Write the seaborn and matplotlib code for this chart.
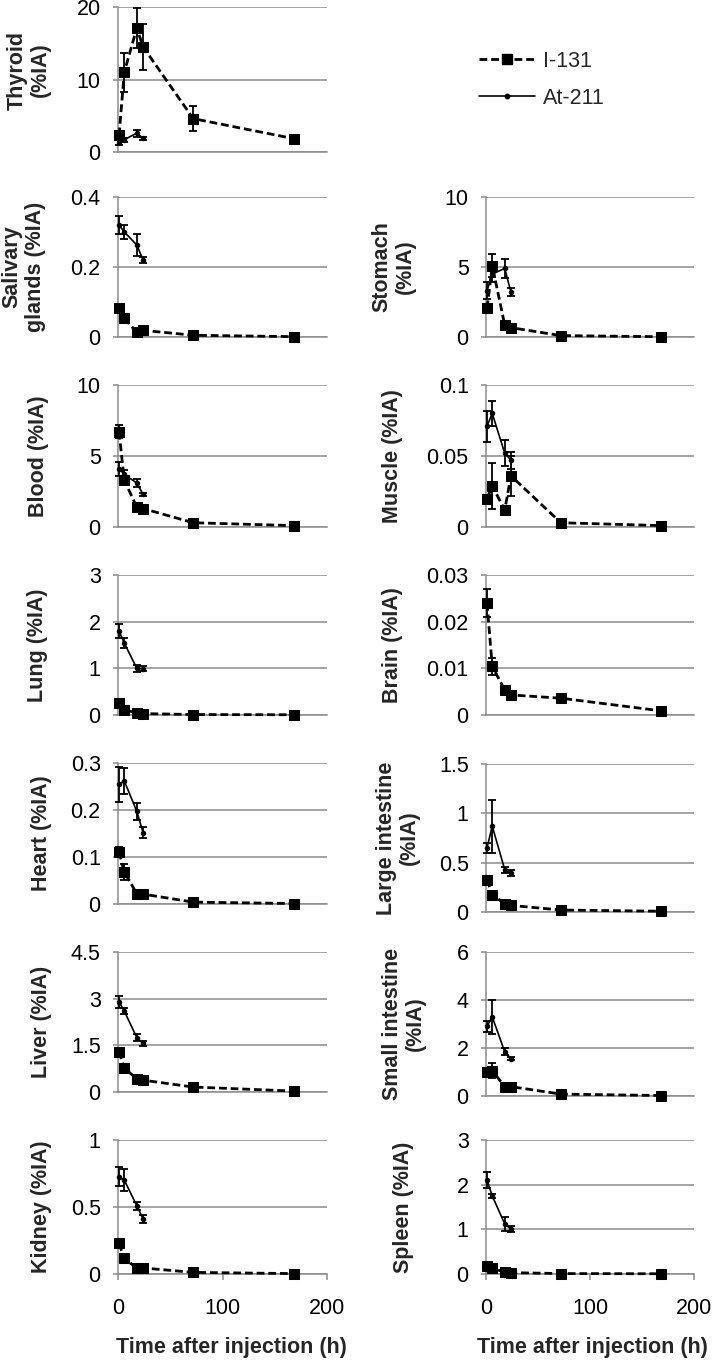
import matplotlib
matplotlib.use("Agg")
import matplotlib.pyplot as plt
from matplotlib.lines import Line2D
import seaborn as sns

sns.set_theme(style="white")
plt.rcParams['font.family'] = ['Liberation Sans', 'DejaVu Sans']

# ---------------- data ----------------
t_i131 = [1, 6, 18, 24, 72, 168]
t_at211 = [1, 6, 18, 24]
series_labels = ["I-131", "At-211"]
x_ticks = [0, 100, 200]
x_label = "Time after injection (h)"

thyroid_i131 = [2.3, 11.0, 17.1, 14.5, 4.6, 1.85]
thyroid_i131_err = [0.4, 2.7, 2.7, 3.2, 1.7, 0.3]
thyroid_at211 = [1.4, 1.7, 2.6, 1.9]
thyroid_at211_err = [0.4, 0.3, 0.5, 0.2]

salivary_i131 = [0.084, 0.053, 0.014, 0.019, 0.005, 0.001]
salivary_i131_err = [0.006, 0.006, 0.002, 0.002, 0.001, 0.0005]
salivary_at211 = [0.32, 0.30, 0.263, 0.22]
salivary_at211_err = [0.027, 0.02, 0.032, 0.008]

stomach_i131 = [2.05, 5.1, 0.86, 0.67, 0.1, 0.02]
stomach_i131_err = [0.2, 0.8, 0.1, 0.08, 0.02, 0.01]
stomach_at211 = [3.3, 4.5, 4.9, 3.2]
stomach_at211_err = [0.6, 0.6, 0.7, 0.3]

blood_i131 = [6.7, 3.3, 1.4, 1.3, 0.3, 0.1]
blood_i131_err = [0.45, 0.25, 0.1, 0.1, 0.05, 0.02]
blood_at211 = [4.1, 3.7, 3.1, 2.3]
blood_at211_err = [0.5, 0.3, 0.25, 0.1]

muscle_i131 = [0.020, 0.029, 0.012, 0.036, 0.003, 0.001]
muscle_i131_err = [0.002, 0.016, 0.002, 0.014, 0.0005, 0.0002]
muscle_at211 = [0.071, 0.080, 0.052, 0.047]
muscle_at211_err = [0.011, 0.009, 0.009, 0.006]

lung_i131 = [0.25, 0.107, 0.05, 0.03, 0.01, 0.005]
lung_i131_err = [0.03, 0.01, 0.005, 0.004, 0.002, 0.001]
lung_at211 = [1.8, 1.54, 1.0, 0.99]
lung_at211_err = [0.15, 0.1, 0.07, 0.05]

brain_i131 = [0.024, 0.0104, 0.0054, 0.0043, 0.0036, 0.0009]
brain_i131_err = [0.003, 0.0018, 0.0005, 0.0004, 0.0003, 0.0001]
brain_at211 = []
brain_at211_err = []

heart_i131 = [0.111, 0.068, 0.022, 0.021, 0.004, 0.001]
heart_i131_err = [0.01, 0.017, 0.003, 0.002, 0.001, 0.0003]
heart_at211 = [0.255, 0.262, 0.197, 0.152]
heart_at211_err = [0.037, 0.028, 0.018, 0.011]

large_int_i131 = [0.327, 0.175, 0.084, 0.067, 0.02, 0.008]
large_int_i131_err = [0.02, 0.01, 0.008, 0.006, 0.003, 0.002]
large_int_at211 = [0.65, 0.87, 0.43, 0.395]
large_int_at211_err = [0.05, 0.27, 0.03, 0.035]

liver_i131 = [1.3, 0.76, 0.43, 0.38, 0.16, 0.03]
liver_i131_err = [0.1, 0.1, 0.05, 0.04, 0.02, 0.01]
liver_at211 = [2.9, 2.6, 1.75, 1.56]
liver_at211_err = [0.2, 0.1, 0.1, 0.08]

small_int_i131 = [0.99, 1.06, 0.39, 0.39, 0.08, 0.02]
small_int_i131_err = [0.15, 0.3, 0.05, 0.05, 0.02, 0.01]
small_int_at211 = [2.9, 3.3, 1.84, 1.56]
small_int_at211_err = [0.22, 0.7, 0.15, 0.05]

kidney_i131 = [0.228, 0.116, 0.045, 0.045, 0.012, 0.003]
kidney_i131_err = [0.01, 0.008, 0.004, 0.004, 0.002, 0.001]
kidney_at211 = [0.725, 0.70, 0.51, 0.41]
kidney_at211_err = [0.07, 0.08, 0.03, 0.03]

spleen_i131 = [0.17, 0.13, 0.04, 0.03, 0.01, 0.005]
spleen_i131_err = [0.02, 0.015, 0.005, 0.004, 0.002, 0.001]
spleen_at211 = [2.1, 1.75, 1.12, 1.01]
spleen_at211_err = [0.18, 0.05, 0.15, 0.07]

# ---------------- layout ----------------
W, H = 714, 1361
fig = plt.figure(figsize=(W / 100, H / 100), dpi=100)
FS = 15.5
GRID = '#8C8C8C'

# (ylabel, ymax, yticks, i131, i131err, at211, at211err, col, top_px, bottom_px, label_x_px, label_y_px, bottom_row)
panels = [
    ("Thyroid\n(%IA)", 20, [0, 10, 20], thyroid_i131, thyroid_i131_err, thyroid_at211, thyroid_at211_err, 0, 7, 152, 29, 70, False),
    ("Salivary\nglands (%IA)", 0.4, [0, 0.2, 0.4], salivary_i131, salivary_i131_err, salivary_at211, salivary_at211_err, 0, 197, 337, 24, None, False),
    ("Stomach\n(%IA)", 10, [0, 5, 10], stomach_i131, stomach_i131_err, stomach_at211, stomach_at211_err, 1, 197, 337, 394, None, False),
    ("Blood (%IA)", 10, [0, 5, 10], blood_i131, blood_i131_err, blood_at211, blood_at211_err, 0, 385, 527, 38.5, None, False),
    ("Muscle (%IA)", 0.1, [0, 0.05, 0.1], muscle_i131, muscle_i131_err, muscle_at211, muscle_at211_err, 1, 385, 527, 392, None, False),
    ("Lung (%IA)", 3, [0, 1, 2, 3], lung_i131, lung_i131_err, lung_at211, lung_at211_err, 0, 575, 715, 37, None, False),
    ("Brain (%IA)", 0.03, [0, 0.01, 0.02, 0.03], brain_i131, brain_i131_err, brain_at211, brain_at211_err, 1, 575, 715, 392, None, False),
    ("Heart (%IA)", 0.3, [0, 0.1, 0.2, 0.3], heart_i131, heart_i131_err, heart_at211, heart_at211_err, 0, 763, 904, 42, None, False),
    ("Large intestine\n(%IA)", 1.5, [0, 0.5, 1, 1.5], large_int_i131, large_int_i131_err, large_int_at211, large_int_at211_err, 1, 764, 912, 398, None, False),
    ("Liver (%IA)", 4.5, [0, 1.5, 3, 4.5], liver_i131, liver_i131_err, liver_at211, liver_at211_err, 0, 952, 1092, 42, None, False),
    ("Small intestine\n(%IA)", 6, [0, 2, 4, 6], small_int_i131, small_int_i131_err, small_int_at211, small_int_at211_err, 1, 952, 1096, 404, None, False),
    ("Kidney (%IA)", 1, [0, 0.5, 1], kidney_i131, kidney_i131_err, kidney_at211, kidney_at211_err, 0, 1140, 1274, 42, None, True),
    ("Spleen (%IA)", 3, [0, 1, 2, 3], spleen_i131, spleen_i131_err, spleen_at211, spleen_at211_err, 1, 1140, 1274, 404, None, True),
]

col_x = {0: (118, 327), 1: (486, 694)}
DASH = [2.8, 1.4]

for (ylab, ymax, yticks, iv, ie, av, ae, col, top, bot, lx, ly, bottom_row) in panels:
    l, r = col_x[col]
    ax = fig.add_axes([l / W, 1 - bot / H, (r - l) / W, (bot - top) / H])
    ax.set_xlim(0, 200)
    ax.set_ylim(0, ymax)

    # I-131 (dashed, square markers)
    sns.lineplot(x=t_i131, y=iv, ax=ax, color='black', lw=2.0, marker='s',
                 markersize=7, markeredgecolor='black', markerfacecolor='black',
                 clip_on=False, zorder=4, legend=False)
    ax.lines[-1].set_dashes(DASH)
    ax.errorbar(t_i131, iv, yerr=ie, fmt='none', ecolor='black', elinewidth=1.3,
                capsize=3, capthick=1.3, zorder=4, clip_on=False)

    # At-211 (solid, small markers)
    if len(av):
        sns.lineplot(x=t_at211, y=av, ax=ax, color='black', lw=1.2, marker='o',
                     markersize=3.2, markeredgecolor='black', markerfacecolor='black',
                     clip_on=False, zorder=5, legend=False)
        ax.errorbar(t_at211, av, yerr=ae, fmt='none', ecolor='black', elinewidth=1.3,
                    capsize=3, capthick=1.3, zorder=5, clip_on=False)

    ax.set_yticks(yticks)
    ax.set_yticklabels([f"{v:g}" for v in yticks], fontsize=FS)
    ax.set_xticks(x_ticks)
    ax.grid(axis='y', color=GRID, lw=1.1)
    ax.grid(axis='x', visible=False)
    ax.set_axisbelow(True)
    for s in ['top', 'right']:
        ax.spines[s].set_visible(False)
    for s in ['left', 'bottom']:
        ax.spines[s].set_color(GRID)
        ax.spines[s].set_linewidth(1.1)
    ax.tick_params(axis='y', left=True, length=3.5, width=1.1, color=GRID, pad=9, labelcolor='black')
    if bottom_row:
        ax.set_xticklabels([str(v) for v in x_ticks], fontsize=FS)
        ax.tick_params(axis='x', bottom=True, length=4, width=1.1, color=GRID, pad=13, labelcolor='black')
        ax.set_xlabel(x_label, fontsize=FS, fontweight='bold')
        ax.xaxis.label.set_va('center')
        ax.xaxis.set_label_coords(0.545 if col == 0 else 0.51, -0.552)
    else:
        ax.set_xticklabels([])
        ax.tick_params(axis='x', bottom=False, length=0)
    ax.set_ylabel("")
    yc = ly if ly is not None else (top + bot) / 2
    fig.text(lx / W, 1 - yc / H, ylab, rotation=90, ha='center', va='center',
             fontsize=FS, fontweight='bold', multialignment='center', linespacing=1.15)

# legend
handles = [
    Line2D([], [], color='black', lw=2.0, dashes=DASH, marker='s', markersize=7),
    Line2D([], [], color='black', lw=1.2, marker='o', markersize=3.2),
]
fig.legend(handles, series_labels, loc='upper left', bbox_to_anchor=(479 / W, 1 - 51 / H),
           frameon=False, borderpad=0, borderaxespad=0, handlelength=2.6,
           handletextpad=0.35, labelspacing=0.72, fontsize=FS)

fig.savefig("out.png", dpi=100)
